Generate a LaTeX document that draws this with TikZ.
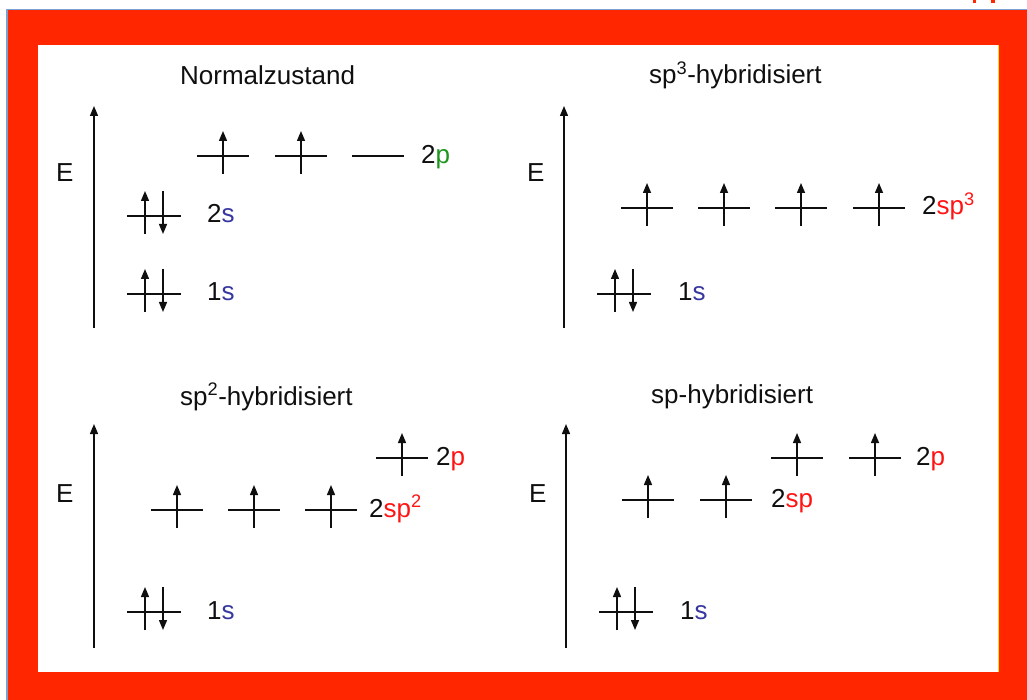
\documentclass[tikz,border=0pt]{standalone}
\usepackage{fontspec}
\setmainfont{Liberation Sans}
\usetikzlibrary{arrows.meta}
\definecolor{framered}{RGB}{255,38,0}
\definecolor{edgeblue}{RGB}{120,160,210}
\definecolor{sblue}{RGB}{55,55,160}
\definecolor{pgreen}{RGB}{30,150,30}
\definecolor{hred}{RGB}{255,20,20}
\definecolor{ink}{RGB}{15,15,15}
\definecolor{edgeyellow}{RGB}{255,230,0}
\tikzset{
  tipped/.style={-{Triangle[width=8pt,length=10pt]}},
  lvl/.style={draw=ink,line width=1.4pt},
  spin/.style={draw=ink,line width=1.4pt,tipped},
  axis/.style={draw=ink,line width=1.4pt,tipped},
  lbl/.style={anchor=base west,inner sep=0pt,text=ink,font=\fontsize{26}{31}\selectfont},
  single/.pic={\draw[lvl] (-26,0)--(26,0); \draw[spin] (0,18)--(0,-25);},
  pair/.pic={\draw[lvl] (-27,0)--(27,0); \draw[spin] (-9,18)--(-9,-25); \draw[spin] (9,-25)--(9,18);},
  emptylvl/.pic={\draw[lvl] (-26,0)--(26,0);}
}
\newcommand{\sC}{\textcolor{sblue}{s}}
\begin{document}
\begin{tikzpicture}[x=1pt, y=-1pt]
\useasboundingbox (0,0) rectangle (1027,700);
% frame
\fill[white] (0,0) rectangle (1027,700);
\fill[edgeblue] (6,9) rectangle (1027,700);
\fill[framered] (7.5,10.5) rectangle (1027,700);
\fill[white] (38,45) rectangle (998,672);
\draw[edgeyellow,line width=1pt] (998.5,45)--(998.5,672);
\fill[framered] (973,0) rectangle (976,3);
\fill[framered] (991,0) rectangle (995,3);

% ---------- Panel top-left: Normalzustand ----------
\node[lbl] (t1) at (180,85) {Normalzustand};
\coordinate (a1b) at (94,328); \coordinate (a1t) at (94,106);
\draw[axis] (a1b)--(a1t);
\node[lbl] (e1) at (56,182) {E};
\pic at (223,156) {single};
\pic at (301,156) {single};
\pic at (378,156) {emptylvl};
\node[lbl] (l2p) at (421,164) {2\textcolor{pgreen}{p}};
\pic at (154,216) {pair};
\node[lbl] (l2s) at (207,223) {2\sC};
\pic at (154,294) {pair};
\node[lbl] (l1s) at (207,301) {1\sC};

% ---------- Panel top-right: sp3 ----------
\node[lbl] (t2) at (649,84) {sp\textsuperscript{3}-hybridisiert};
\coordinate (a2b) at (564,328); \coordinate (a2t) at (564,106);
\draw[axis] (a2b)--(a2t);
\node[lbl] (e2) at (527,182) {E};
\pic at (647,208) {single};
\pic at (724,208) {single};
\pic at (801,208) {single};
\pic at (879,208) {single};
\node[lbl] (l2sp3) at (922,215) {2\textcolor{hred}{sp\textsuperscript{3}}};
\pic at (624,294) {pair};
\node[lbl] (l1s2) at (678,301) {1\sC};

% ---------- Panel bottom-left: sp2 ----------
\node[lbl] (t3) at (180,405) {sp\textsuperscript{2}-hybridisiert};
\coordinate (a3b) at (94,648); \coordinate (a3t) at (94,424);
\draw[axis] (a3b)--(a3t);
\node[lbl] (e3) at (56,502) {E};
\pic at (177,510) {single};
\pic at (254,510) {single};
\pic at (331,510) {single};
\node[lbl] (l2sp2) at (369,517) {2\textcolor{hred}{sp\textsuperscript{2}}};
\pic at (402,458) {single};
\node[lbl] (l2p3) at (436,465) {2\textcolor{hred}{p}};
\pic at (154,612) {pair};
\node[lbl] (l1s3) at (207,619) {1\sC};

% ---------- Panel bottom-right: sp ----------
\node[lbl] (t4) at (651,403) {sp-hybridisiert};
\coordinate (a4b) at (566,648); \coordinate (a4t) at (566,424);
\draw[axis] (a4b)--(a4t);
\node[lbl] (e4) at (529,502) {E};
\pic at (648,500) {single};
\pic at (726,500) {single};
\node[lbl] (l2sp) at (771,507) {2\textcolor{hred}{sp}};
\pic at (797,458) {single};
\pic at (875,458) {single};
\node[lbl] (l2p4) at (916,465) {2\textcolor{hred}{p}};
\pic at (626,612) {pair};
\node[lbl] (l1s4) at (680,619) {1\sC};
\end{tikzpicture}
\end{document}
